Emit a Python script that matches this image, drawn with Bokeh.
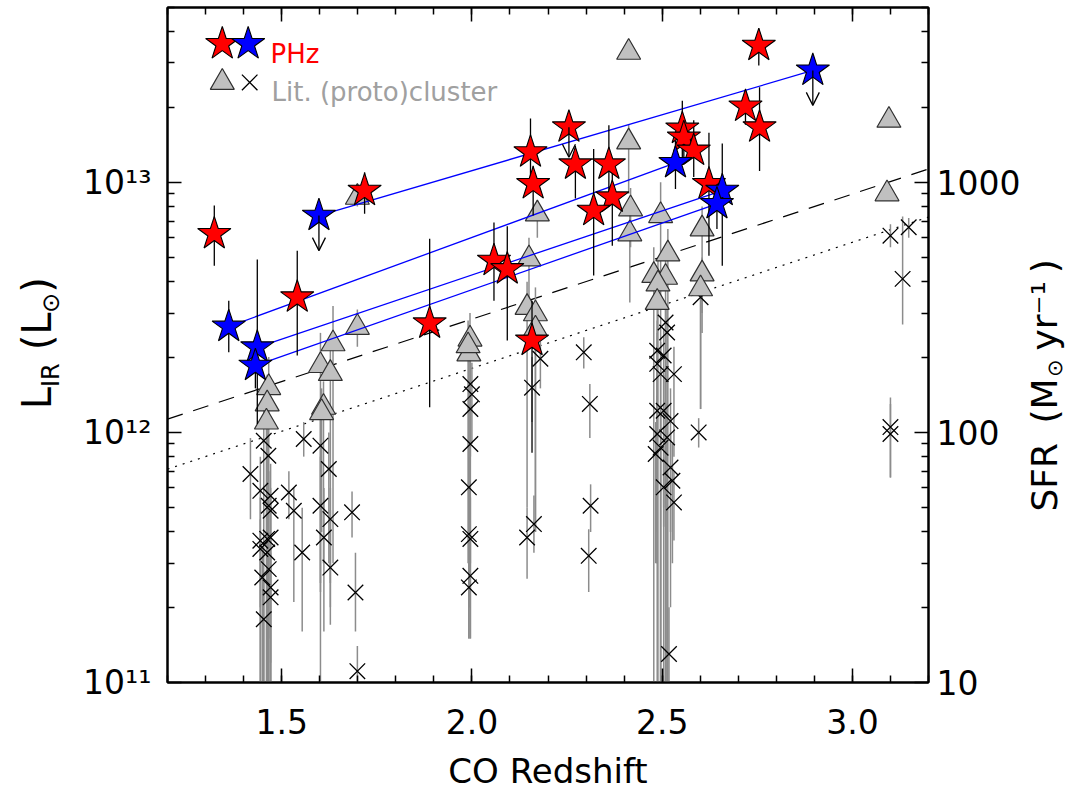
import numpy as np
from math import pi
from bokeh.plotting import figure
from bokeh.layouts import row
from bokeh.models import (Range1d, LogAxis, LinearAxis, SingleIntervalTicker, FixedTicker,
                          Label, Arrow, OpenHead, ColumnDataSource, LinearScale)
from bokeh.embed import file_html
from bokeh.resources import INLINE

# ---------------- data (L_IR in units of 1e12 Lsun) ----------------
# PHz red stars: redshift, L_IR, lower, upper
red_z  = [1.323, 1.541, 1.718, 1.889, 2.058, 2.093, 2.158, 2.154, 2.161, 2.255, 2.272,
          2.360, 2.369, 2.320, 2.553, 2.557, 2.583, 2.623, 2.719, 2.756, 2.754]
red_L  = [6.22, 3.47, 9.26, 2.73, 4.86, 4.50, 2.33, 13.2, 9.85, 16.6, 11.8,
          11.8, 8.71, 7.70, 16.4, 15.1, 13.4, 9.85, 20.1, 16.6, 35.2]
red_lo = [4.64, 2.03, 7.49, 1.26, 3.36, 2.33, 0.83, 9.26, 7.36, 16.6, 8.61,
          8.50, 5.58, 4.24, 12.2, 12.0, 10.5, 5.09, 17.0, 11.1, 29.3]
red_hi = [8.07, 5.33, 10.96, 5.95, 6.90, 6.68, 3.36, 17.98, 11.66, 16.6, 14.0,
          16.9, 11.1, 13.6, 21.2, 18.0, 17.7, 15.8, 23.0, 24.0, 41.2]

# PHz blue stars (lines join pairs)
blue_z  = [1.361, 1.436, 1.431, 1.598, 2.535, 2.658, 2.644, 2.896]
blue_L  = [2.65, 2.19, 1.85, 7.36, 11.96, 9.26, 8.20, 28.0]
blue_lo = [2.09, 1.08, 1.50, 7.36, 9.41, 4.64, 6.50, 28.0]
blue_hi = [3.36, 4.91, 2.20, 7.36, 14.7, 14.3, 10.0, 28.0]
blue_pair_start = [0, 1, 2, 3]
blue_pair_end   = [4, 5, 6, 7]
# PHz upper limits (arrows): redshift, value, arrow tip
lim_z   = [1.598, 2.896, 2.255]
lim_L   = [7.36, 28.0, 16.6]
lim_tip = [5.33, 20.3, 12.6]

# Literature (proto)cluster triangles
tri_z  = [2.412, 3.096, 3.091, 2.412, 2.417, 2.415, 2.496, 2.605, 2.515, 2.478, 2.509,
          2.489, 2.487, 2.605, 2.601, 1.699, 1.699, 1.635, 1.602, 1.628, 1.610, 1.605,
          1.466, 1.462, 1.460, 1.995, 1.992, 1.990, 2.145, 2.167, 2.167, 2.150, 2.172]
tri_L  = [33.1, 17.7, 8.99, 14.5, 7.83, 6.22, 7.36, 6.51, 5.17, 4.24, 4.17,
          3.92, 3.31, 4.30, 3.75, 2.63, 8.71, 2.26, 1.85, 1.72, 1.26, 1.20,
          1.51, 1.30, 1.10, 2.36, 2.06, 2.22, 3.16, 2.98, 2.59, 4.94, 7.47]
tri_lo = [33.1, 17.7, 8.99, 9.0, 5.5, 3.31, 0.05, 3.0, 0.05, 0.05, 0.05,
          0.05, 0.05, 2.5, 1.24, 2.2, 8.0, 0.3, 0.25, 0.25, 0.3, 0.4,
          0.05, 0.05, 0.05, 0.2, 0.2, 0.3, 0.5, 0.4, 0.4, 3.0, 6.0]
tri_hi = [33.1, 17.7, 8.99, 17.0, 9.5, 7.5, 10.0, 8.0, 6.5, 5.5, 5.5,
          5.0, 4.5, 5.0, 4.5, 3.1, 9.5, 3.2, 2.5, 2.3, 1.6, 1.5,
          2.0, 1.7, 1.4, 3.0, 2.7, 2.8, 4.0, 3.8, 3.3, 6.0, 8.5]

# Literature (proto)cluster crosses
crs_z  = [1.453, 1.418, 1.444, 1.471, 1.466, 1.471, 1.465, 1.444, 1.462, 1.471, 1.444,
          1.462, 1.466, 1.449, 1.471, 1.471, 1.453, 1.519, 1.532, 1.554, 1.558, 1.602,
          1.624, 1.602, 1.628, 1.611, 1.628, 1.685, 1.694, 1.699,
          1.996, 2.000, 1.996, 1.996, 1.992, 1.992, 1.996, 1.996, 1.992,
          2.158, 2.180, 2.145, 2.163,
          2.294, 2.310, 2.312, 2.307,
          2.509, 2.513, 2.487, 2.487, 2.496, 2.531, 2.504, 2.487, 2.504, 2.522, 2.487,
          2.513, 2.483, 2.522, 2.504, 2.531, 2.518, 2.496, 2.527,
          2.601, 2.596,
          3.100, 3.100, 3.132, 3.100, 3.148]
crs_L  = [0.926, 0.682, 0.584, 0.558, 0.509, 0.486, 0.807, 0.369, 0.375, 0.380, 0.342,
          0.331, 0.284, 0.263, 0.240, 0.219, 0.179, 0.575, 0.486, 0.331, 0.941, 0.885,
          0.714, 0.509, 0.450, 0.380, 0.288, 0.479, 0.229, 0.111,
          1.56, 1.42, 1.24, 0.899, 0.603, 0.392, 0.375, 0.267, 0.240,
          1.51, 1.97, 0.380, 0.430,
          2.09, 1.30, 0.509, 0.321,
          2.75, 2.51, 2.12, 1.88, 1.71, 1.71, 2.03, 1.22, 1.22, 1.11, 0.985,
          0.955, 0.820, 0.724, 0.603, 0.525, 0.130, 0.869, 0.641,
          3.47, 1.00,
          1.05, 0.985, 4.11, 6.12, 6.61]
crs_lo = [0.05, 0.45, 0.05, 0.05, 0.05, 0.30, 0.05, 0.05, 0.20, 0.05, 0.20,
          0.05, 0.15, 0.05, 0.05, 0.12, 0.05, 0.45, 0.21, 0.16, 0.80, 0.05,
          0.30, 0.23, 0.20, 0.16, 0.17, 0.38, 0.16, 0.10,
          1.20, 0.90, 0.80, 0.30, 0.40, 0.15, 0.15, 0.15, 0.15,
          1.10, 1.50, 0.26, 0.33,
          1.80, 0.95, 0.40, 0.23,
          0.05, 0.05, 0.40, 0.30, 0.05, 0.80, 0.50, 0.30, 0.05, 0.40, 0.30,
          0.05, 0.30, 0.20, 0.42, 0.37, 0.05, 0.05, 0.30,
          1.24, 0.87,
          0.66, 0.66, 2.70, 5.50, 6.00]
crs_hi = [1.30, 0.95, 0.80, 0.75, 0.70, 0.60, 1.10, 0.55, 0.50, 0.55, 0.45,
          0.50, 0.40, 0.35, 0.33, 0.30, 0.26, 0.70, 0.60, 0.50, 1.10, 1.20,
          1.00, 0.80, 0.60, 0.60, 0.49, 0.58, 0.33, 0.14,
          2.00, 1.90, 1.60, 1.30, 0.80, 0.60, 0.55, 0.40, 0.35,
          2.00, 2.30, 0.50, 0.56,
          2.40, 1.56, 0.62, 0.41,
          3.30, 3.10, 2.80, 2.50, 2.30, 2.20, 2.60, 1.80, 1.70, 1.50, 1.40,
          1.30, 1.10, 1.00, 0.80, 0.70, 0.20, 1.20, 0.90,
          4.00, 1.14,
          1.38, 1.30, 7.30, 6.80, 7.20]

# reference relations
ref_z = [1.2, 3.2]
dashed_L = [1.13, 11.3]
dotted_L = [0.713, 7.26]

x_tick_labels = {1.5: "1.5", 2.0: "2.0", 2.5: "2.5", 3.0: "3.0"}
y_tick_labels = {1e11: "10\u00b9\u00b9", 1e12: "10\u00b9\u00b2", 1e13: "10\u00b9\u00b3"}
sfr_tick_labels = {10: "10", 100: "100", 1000: "1000"}

E = 1e12
FONT = "DejaVu Sans"
GRAY_BAR = "#8c8c8c"
H = 787          # canvas height (all panels)
LW, RW = 70, 44  # widths of the title panels
BL, BR = 97, 95  # main figure side borders
FRAME_TOP, FRAME_BOTTOM = 7, 682

p = figure(frame_width=761, frame_height=FRAME_BOTTOM - FRAME_TOP,
           x_range=Range1d(1.2, 3.2), y_range=Range1d(1e11, 5e13), y_axis_type="log",
           output_backend="svg", toolbar_location=None,
           min_border_left=BL, min_border_right=BR, min_border_top=FRAME_TOP, min_border_bottom=105)
p.background_fill_color = "white"
p.border_fill_color = "white"
p.xgrid.grid_line_color = None
p.ygrid.grid_line_color = None
p.outline_line_color = "black"
p.outline_line_width = 2

p.extra_y_ranges = {"sfr": Range1d(10, 5000), "legy": Range1d(0, 1)}
p.extra_x_ranges = {"legx": Range1d(0, 1)}
p.extra_y_scales = {"legy": LinearScale()}
p.extra_x_scales = {"legx": LinearScale()}


def style_axis(ax, size="33px"):
    ax.axis_line_width = 2
    ax.axis_line_color = "black"
    ax.major_tick_in = 14
    ax.major_tick_out = 0
    ax.minor_tick_in = 7
    ax.minor_tick_out = 0
    ax.major_tick_line_width = 1.5
    ax.minor_tick_line_width = 1.5
    ax.major_tick_line_color = "black"
    ax.minor_tick_line_color = "black"
    ax.major_label_text_font = FONT
    ax.major_label_text_font_size = size
    ax.major_label_text_color = "black"


xa = p.xaxis[0]
xa.ticker = SingleIntervalTicker(interval=0.5, num_minor_ticks=5)
xa.major_label_overrides = x_tick_labels
style_axis(xa)
xa.major_label_standoff = 26
xa.axis_label = "CO Redshift"
xa.axis_label_text_font = FONT
xa.axis_label_text_font_size = "34px"
xa.axis_label_text_font_style = "normal"
xa.axis_label_text_color = "black"
xa.axis_label_standoff = 14

top = LinearAxis(ticker=SingleIntervalTicker(interval=0.5, num_minor_ticks=5))
style_axis(top, "0px")
top.major_label_standoff = 0
top.major_label_text_color = None
p.add_layout(top, "above")

ya = p.yaxis[0]
ya.ticker = FixedTicker(ticks=list(y_tick_labels.keys()),
                        minor_ticks=[m * 10.0 ** e for e in (11, 12, 13) for m in range(2, 10)])
ya.major_label_overrides = y_tick_labels
style_axis(ya)
ya.major_label_standoff = 16

ra = LogAxis(y_range_name="sfr",
             ticker=FixedTicker(ticks=list(sfr_tick_labels.keys()),
                                minor_ticks=[m * 10.0 ** e for e in (1, 2, 3) for m in range(2, 10)]))
ra.major_label_overrides = sfr_tick_labels
style_axis(ra)
ra.major_label_standoff = 8
p.add_layout(ra, "right")

# ---------- reference lines ----------
rz = np.array(ref_z)
p.line(rz, np.array(dashed_L) * E, line_color="black", line_width=1.2, line_dash="16 11")
p.line(rz, np.array(dotted_L) * E, line_color="black", line_width=1.2, line_dash="2 6")

# ---------- literature points ----------
src_c = ColumnDataSource(dict(z=crs_z, L=np.array(crs_L) * E, lo=np.array(crs_lo) * E, hi=np.array(crs_hi) * E))
src_t = ColumnDataSource(dict(z=tri_z, L=np.array(tri_L) * E, lo=np.array(tri_lo) * E, hi=np.array(tri_hi) * E))
p.segment(x0="z", y0="lo", x1="z", y1="hi", source=src_c, line_color=GRAY_BAR, line_width=1.5)
p.segment(x0="z", y0="lo", x1="z", y1="hi", source=src_t, line_color=GRAY_BAR, line_width=1.5)
p.scatter(x="z", y="L", source=src_c, marker="x", size=22, line_color="black", line_width=1.3)
p.scatter(x="z", y="L", source=src_t, marker="triangle", size=24, fill_color="#c0c0c0",
          line_color="#303030", line_width=1.2)

# ---------- PHz ----------
bz = np.array(blue_z)
bL = np.array(blue_L) * E
i0 = np.array(blue_pair_start)
i1 = np.array(blue_pair_end)
p.segment(x0=bz[i0], y0=bL[i0], x1=bz[i1], y1=bL[i1], line_color="#0000ff", line_width=1.3)

src_r = ColumnDataSource(dict(z=red_z, L=np.array(red_L) * E, lo=np.array(red_lo) * E, hi=np.array(red_hi) * E))
src_b = ColumnDataSource(dict(z=blue_z, L=bL, lo=np.array(blue_lo) * E, hi=np.array(blue_hi) * E))
p.segment(x0="z", y0="lo", x1="z", y1="hi", source=src_r, line_color="black", line_width=1.3)
p.segment(x0="z", y0="lo", x1="z", y1="hi", source=src_b, line_color="black", line_width=1.3)

src_lim = ColumnDataSource(dict(z=lim_z, L=np.array(lim_L) * E, tip=np.array(lim_tip) * E))
p.add_layout(Arrow(end=OpenHead(size=13, line_width=1.3, line_color="black"),
                   x_start="z", y_start="L", x_end="z", y_end="tip", source=src_lim,
                   line_color="black", line_width=1.3))

p.scatter(x="z", y="L", source=src_r, marker="star", size=35, fill_color="#ff0000",
          line_color="black", line_width=1.1)
p.scatter(x="z", y="L", source=src_b, marker="star", size=35, fill_color="#0000ff",
          line_color="black", line_width=1.1)

# ---------- legend (keys in frame-fraction coordinates) ----------
leg = dict(x_range_name="legx", y_range_name="legy")
p.scatter(x=[0.072], y=[0.946], marker="star", size=35, fill_color="#ff0000", line_color="black", line_width=1.1, **leg)
p.scatter(x=[0.106], y=[0.946], marker="star", size=35, fill_color="#0000ff", line_color="black", line_width=1.1, **leg)
p.scatter(x=[0.072], y=[0.889], marker="triangle", size=24, fill_color="#c0c0c0", line_color="#303030", line_width=1.2, **leg)
p.scatter(x=[0.108], y=[0.889], marker="x", size=22, line_color="black", line_width=1.3, **leg)
p.add_layout(Label(x=103, y=629, x_units="screen", y_units="screen", text="PHz",
                   text_color="#ff0000", text_font=FONT, text_font_size="26px", text_baseline="alphabetic"))
p.add_layout(Label(x=104, y=591, x_units="screen", y_units="screen", text="Lit. (proto)cluster",
                   text_color="#a0a0a0", text_font=FONT, text_font_size="26px", text_baseline="alphabetic"))


# ---------- axis-title panels (their frames align with the main frame; y given in page px) ----------
def title_panel(width):
    f = figure(width=width, height=H, x_range=Range1d(0, width),
               y_range=Range1d(FRAME_BOTTOM, FRAME_TOP),
               output_backend="svg", toolbar_location=None,
               x_axis_location=None, y_axis_location=None, min_border=0)
    f.xgrid.grid_line_color = None
    f.ygrid.grid_line_color = None
    f.outline_line_color = None
    f.background_fill_color = "white"
    f.border_fill_color = "white"
    return f


def tlabel(f, text, x_center, y_center, size):
    f.add_layout(Label(x=x_center, y=y_center, text=text, angle=pi / 2,
                       text_font=FONT, text_font_size=size, text_color="black",
                       text_align="center", text_baseline="middle"))


left = title_panel(LW)
tlabel(left, "L", 36, 401, "40px")
tlabel(left, "IR", 50, 378, "24px")
tlabel(left, "(", 36, 345, "40px")
tlabel(left, "L", 36, 326, "40px")
tlabel(left, "\u2299", 50, 305, "24px")
tlabel(left, ")", 36, 287, "40px")

right = title_panel(RW)
XR = LW + BL + 761 + BR  # page x where the right panel starts
tlabel(right, "SFR", 1044 - XR, 481, "36px")
tlabel(right, "(M", 1044 - XR, 404, "36px")
tlabel(right, "\u2299", 1054 - XR, 371, "21px")
tlabel(right, "yr\u207b\u00b9", 1044 - XR, 318, "36px")
tlabel(right, ")", 1044 - XR, 268, "36px")

layout = row(left, p, right, spacing=0)
open("out.html", "w").write(file_html(layout, INLINE))
